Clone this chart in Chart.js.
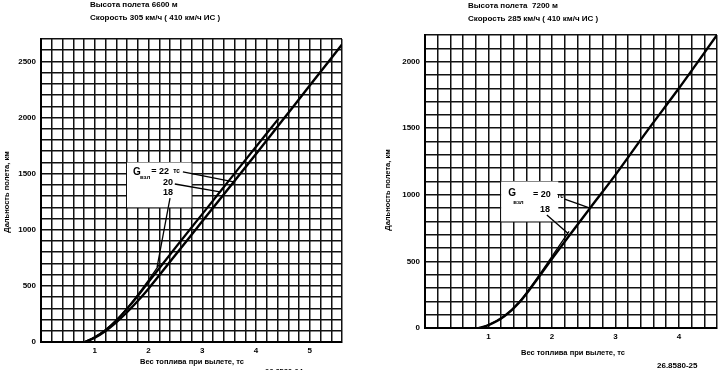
<!DOCTYPE html>
<html lang="ru">
<head>
<meta charset="utf-8">
<title>Дальность полета</title>
<script src="https://cdn.jsdelivr.net/npm/chart.js@4.4.0/dist/chart.umd.min.js"></script>
<style>
    html, body { margin: 0; padding: 0; background: #fff; }
    body { width: 722px; height: 370px; position: relative; overflow: hidden; }
    canvas { position: absolute; top: 0; }
    #chart-left { left: 0; }
    #chart-right { left: 362px; }
</style>
</head>
<body>
<canvas id="chart-left" width="360" height="370"></canvas>
<canvas id="chart-right" width="360" height="370"></canvas>
<script>
// Left chart: H = 6600 m, fuel weight (tc) vs range (km)
const leftFuel22 = [0.82, 1.0, 1.2, 1.4, 1.6, 1.8, 2.0, 2.5, 3.0, 3.5, 4.0, 4.5, 5.0, 5.6];
const leftRange22 = [0, 38, 98, 175, 265, 365, 475, 775, 1075, 1375, 1675, 1980, 2285, 2650];
const leftFuel20 = [0.82, 1.0, 1.2, 1.4, 1.6, 1.8, 2.0, 2.5, 3.0, 3.5, 4.0, 4.42];
const leftRange20 = [0, 42, 106, 192, 295, 410, 535, 840, 1140, 1440, 1740, 1990];
const leftFuel18 = [0.82, 1.0, 1.2, 1.4, 1.6, 1.8, 2.0, 2.2];
const leftRange18 = [0, 43, 108, 196, 302, 422, 552, 690];

// Right chart: H = 7200 m
const rightFuel20 = [0.85, 1.0, 1.25, 1.5, 1.75, 2.0, 2.25, 2.6, 3.0, 3.5, 4.0, 4.6];
const rightRange20 = [0, 22, 88, 200, 355, 520, 680, 900, 1150, 1480, 1800, 2200];
const rightFuel18 = [0.85, 1.0, 1.25, 1.5, 1.75, 2.0, 2.27];
const rightRange18 = [0, 23, 91, 206, 365, 538, 725];

// Tick labels
const leftXLabels = [1, 2, 3, 4, 5];
const leftYLabels = [0, 500, 1000, 1500, 2000, 2500];
const rightXLabels = [1, 2, 3, 4];
const rightYLabels = [0, 500, 1000, 1500, 2000];

const FONT = '"Liberation Sans", Arial, sans-serif';

function toPoints(xs, ys) {
    return xs.map((x, i) => ({ x: x, y: ys[i] }));
}

function near(list, v) {
    return list.some(t => Math.abs(t - v) < 1e-6);
}

// Boxes, leader lines and free text for one chart
function notesPlugin(notes) {
    return {
        id: 'notes',
        beforeDatasetsDraw(chart) {
            const ctx = chart.ctx;
            const xs = chart.scales.x, ys = chart.scales.y;
            notes.boxes.forEach(b => {
                const x1 = xs.getPixelForValue(b.x[0]), x2 = xs.getPixelForValue(b.x[1]);
                const y1 = ys.getPixelForValue(b.y[1]), y2 = ys.getPixelForValue(b.y[0]);
                ctx.save();
                ctx.fillStyle = '#fff';
                ctx.fillRect(x1, y1, x2 - x1, y2 - y1);
                ctx.restore();
            });
        },
        afterDraw(chart) {
            const ctx = chart.ctx;
            const xs = chart.scales.x, ys = chart.scales.y;
            ctx.save();
            ctx.strokeStyle = '#000';
            ctx.lineWidth = 1.3;
            notes.leaders.forEach(l => {
                ctx.beginPath();
                ctx.moveTo(xs.getPixelForValue(l.from[0]), ys.getPixelForValue(l.from[1]));
                ctx.lineTo(xs.getPixelForValue(l.to[0]), ys.getPixelForValue(l.to[1]));
                ctx.stroke();
            });
            ctx.fillStyle = '#000';
            notes.texts.forEach(t => {
                let px = t.px, py = t.py;
                if (t.at) {
                    px = xs.getPixelForValue(t.at[0]);
                    py = ys.getPixelForValue(t.at[1]);
                }
                ctx.save();
                ctx.font = 'bold ' + (t.size || 8) + 'px ' + FONT;
                ctx.textAlign = t.align || 'left';
                ctx.textBaseline = 'middle';
                ctx.translate(px, py);
                if (t.rotate) ctx.rotate(t.rotate);
                ctx.fillText(t.text, 0, 0);
                ctx.restore();
            });
            ctx.restore();
        }
    };
}

function makeChart(id, cfg) {
    const datasets = cfg.series.map(s => ({
        data: s.data,
        borderColor: '#000',
        borderWidth: s.width,
        pointRadius: 0,
        fill: false,
        cubicInterpolationMode: 'monotone'
    }));
    return new Chart(document.getElementById(id), {
        type: 'line',
        data: { datasets: datasets },
        plugins: [notesPlugin(cfg.notes)],
        options: {
            responsive: false,
            animation: false,
            devicePixelRatio: 1,
            layout: { padding: cfg.padding },
            scales: {
                x: {
                    type: 'linear',
                    min: 0,
                    max: cfg.xMax,
                    afterFit: s => { s.height = cfg.xHeight; s.paddingLeft = 0; s.paddingRight = 0; },
                    grid: { color: '#111', lineWidth: 1.5, drawTicks: false },
                    border: { color: '#000', width: 2 },
                    ticks: {
                        stepSize: 0.2,
                        autoSkip: false,
                        maxRotation: 0,
                        padding: 4,
                        color: '#000',
                        font: { family: FONT, size: 8, weight: 'bold' },
                        callback: v => near(cfg.xLabels, v) ? String(Math.round(v)) : ''
                    }
                },
                y: {
                    min: 0,
                    max: cfg.yMax,
                    afterFit: s => { s.width = cfg.yWidth; s.paddingTop = 0; s.paddingBottom = 0; },
                    grid: { color: '#111', lineWidth: 1.5, drawTicks: false },
                    border: { color: '#000', width: 2 },
                    ticks: {
                        stepSize: 100,
                        autoSkip: false,
                        padding: 5,
                        color: '#000',
                        font: { family: FONT, size: 8, weight: 'bold' },
                        callback: v => near(cfg.yLabels, v) ? String(v) : ''
                    }
                }
            },
            plugins: {
                legend: { display: false },
                tooltip: { enabled: false }
            }
        }
    });
}

makeChart('chart-left', {
    xMax: 5.6, yMax: 2700,
    xLabels: leftXLabels, yLabels: leftYLabels,
    padding: { top: 39, right: 18, left: 0, bottom: 0 },
    yWidth: 41, xHeight: 28,
    series: [
        { data: toPoints(leftFuel22, leftRange22), width: 2.4 },
        { data: toPoints(leftFuel20, leftRange20), width: 2.2 },
        { data: toPoints(leftFuel18, leftRange18), width: 1.3 }
    ],
    notes: {
        boxes: [{ x: [1.6, 2.8], y: [1200, 1600] }],
        leaders: [
            { from: [2.64, 1515], to: [3.585, 1426] },
            { from: [2.49, 1408], to: [3.33, 1337] },
            { from: [2.40, 1283], to: [2.16, 668] }
        ],
        texts: [
            { text: 'Высота полета 6600 м', px: 90, py: 5 },
            { text: 'Скорость 305 км/ч ( 410 км/ч ИС )', px: 90, py: 18 },
            { text: 'Дальность полета, км', px: 7, py: 192, size: 7.5, align: 'center', rotate: -Math.PI / 2 },
            { text: 'Вес топлива при вылете, тс', px: 192, py: 362, size: 7.5, align: 'center' },
            { text: '26.8580-24', px: 265, py: 372, size: 7.5 },
            { text: 'G', at: [1.71, 1515], size: 10 },
            { text: 'взл', at: [1.84, 1468], size: 6 },
            { text: '= 22', at: [2.05, 1515], size: 9 },
            { text: 'тс', at: [2.46, 1522], size: 6.5 },
            { text: '20', at: [2.27, 1417], size: 9 },
            { text: '18', at: [2.27, 1328], size: 9 }
        ]
    }
});

makeChart('chart-right', {
    xMax: 4.6, yMax: 2200,
    xLabels: rightXLabels, yLabels: rightYLabels,
    padding: { top: 35, right: 5, left: 0, bottom: 0 },
    yWidth: 63, xHeight: 42,
    series: [
        { data: toPoints(rightFuel20, rightRange20), width: 2.4 },
        { data: toPoints(rightFuel18, rightRange18), width: 1.3 }
    ],
    notes: {
        boxes: [{ x: [1.2, 2.1], y: [800, 1100] }],
        leaders: [
            { from: [2.2, 968], to: [2.6, 900] },
            { from: [1.92, 848], to: [2.25, 711] }
        ],
        texts: [
            { text: 'Высота полета  7200 м', px: 106, py: 6 },
            { text: 'Скорость 285 км/ч ( 410 км/ч ИС )', px: 106, py: 19 },
            { text: 'Дальность полета, км', px: 26, py: 190, size: 7.5, align: 'center', rotate: -Math.PI / 2 },
            { text: 'Вес топлива при вылете, тс', px: 211, py: 353, size: 7.5, align: 'center' },
            { text: '26.8580-25', px: 295, py: 366, size: 8 },
            { text: 'G', at: [1.31, 1014], size: 10 },
            { text: 'взл', at: [1.39, 946], size: 6 },
            { text: '= 20', at: [1.70, 1006], size: 9 },
            { text: 'тс', at: [2.08, 990], size: 6.5 },
            { text: '18', at: [1.81, 893], size: 9 }
        ]
    }
});
</script>
</body>
</html>
